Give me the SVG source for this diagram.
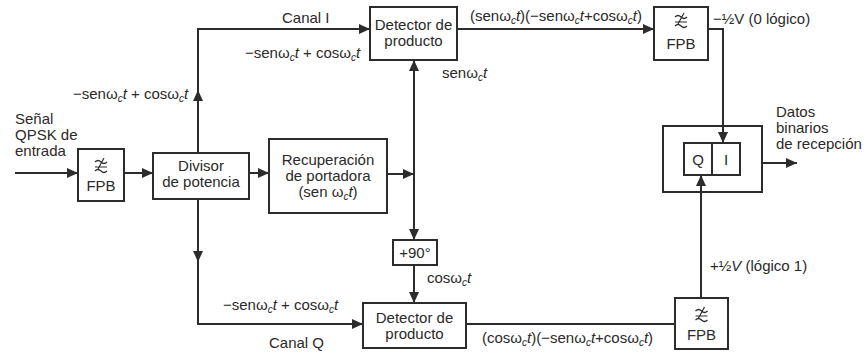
<svg xmlns="http://www.w3.org/2000/svg" width="867" height="353" viewBox="0 0 867 353">
  <style>
    .box { fill: none; stroke: #2c2c2c; stroke-width: 2; }
    .wire { fill: none; stroke: #2c2c2c; stroke-width: 2; }
    .arr { marker-end: url(#head); }
    text { font-family: "Liberation Sans", Arial, sans-serif; font-size: 15px; fill: #2a2a2a; }
    .c { text-anchor: middle; }
    .sym { fill: none; stroke: #2c2c2c; stroke-width: 1.2; }
  </style>
  <defs>
    <marker id="head" markerUnits="userSpaceOnUse" markerWidth="12" markerHeight="10" refX="11" refY="5" orient="auto">
      <path d="M0,0 L11,5 L0,10 Z" fill="#2c2c2c"/>
    </marker>
    <!-- low-pass filter glyph: stacked tildes, upper ones struck through -->
    <g id="lpf">
      <path class="sym" d="M-6,-4 q3,-3 6,0 t6,0 M-6,1 h12 M-6,5 q3,-3 6,0 t6,0 M3,-8 L-3,3"/>
    </g>
  </defs>
  <rect width="867" height="353" fill="#ffffff"/>

  <!-- connectors -->
  <g id="connectors">
    <path class="wire arr" d="M15,173 H78"/>
    <path class="wire arr" d="M124,173 H153"/>
    <path class="wire arr" d="M249,173 H269"/>
    <path class="wire arr" d="M387,174 H414"/>
    <!-- carrier line: up to the I detector, down to the 90° shifter -->
    <path class="wire arr" d="M414,174 V60"/>
    <path class="wire arr" d="M414,174 V240"/>
    <path class="wire arr" d="M414,265 V303"/>
    <!-- I channel -->
    <path class="wire arr" d="M198,153 V90"/>
    <path class="wire arr" d="M198,92 V29 H370"/>
    <path class="wire arr" d="M457,29 H654"/>
    <path class="wire arr" d="M708,29 H723 V143"/>
    <!-- Q channel -->
    <path class="wire arr" d="M198,199 V262"/>
    <path class="wire arr" d="M198,260 V324 H363"/>
    <path class="wire" d="M466,324 H675"/>
    <path class="wire arr" d="M701,298 V175"/>
    <!-- output -->
    <path class="wire arr" d="M762,163 H797"/>
  </g>

  <!-- labels on the lines -->
  <text x="15" y="124">Señal</text>
  <text x="15" y="140">QPSK de</text>
  <text x="15" y="156">entrada</text>

  <text x="73" y="99">−senω<tspan font-size="10" dy="3" font-style="italic">c</tspan><tspan dy="-3" font-style="italic">t</tspan> + cosω<tspan font-size="10" dy="3" font-style="italic">c</tspan><tspan dy="-3" font-style="italic">t</tspan></text>
  <text x="282" y="23">Canal I</text>
  <text x="245" y="58">−senω<tspan font-size="10" dy="3" font-style="italic">c</tspan><tspan dy="-3" font-style="italic">t</tspan> + cosω<tspan font-size="10" dy="3" font-style="italic">c</tspan><tspan dy="-3" font-style="italic">t</tspan></text>
  <text x="442" y="78">senω<tspan font-size="10" dy="3" font-style="italic">c</tspan><tspan dy="-3" font-style="italic">t</tspan></text>
  <text x="470" y="21">(senω<tspan font-size="10" dy="3" font-style="italic">c</tspan><tspan dy="-3" font-style="italic">t</tspan>)(−senω<tspan font-size="10" dy="3" font-style="italic">c</tspan><tspan dy="-3" font-style="italic">t</tspan>+cosω<tspan font-size="10" dy="3" font-style="italic">c</tspan><tspan dy="-3" font-style="italic">t</tspan>)</text>
  <text x="713" y="24">−½V (0 lógico)</text>
  <text x="776" y="117">Datos</text>
  <text x="776" y="133">binarios</text>
  <text x="776" y="149">de recepción</text>

  <text x="427" y="283">cosω<tspan font-size="10" dy="3" font-style="italic">c</tspan><tspan dy="-3" font-style="italic">t</tspan></text>
  <text x="223" y="310">−senω<tspan font-size="10" dy="3" font-style="italic">c</tspan><tspan dy="-3" font-style="italic">t</tspan> + cosω<tspan font-size="10" dy="3" font-style="italic">c</tspan><tspan dy="-3" font-style="italic">t</tspan></text>
  <text x="269" y="348">Canal Q</text>
  <text x="482" y="343">(cosω<tspan font-size="10" dy="3" font-style="italic">c</tspan><tspan dy="-3" font-style="italic">t</tspan>)(−senω<tspan font-size="10" dy="3" font-style="italic">c</tspan><tspan dy="-3" font-style="italic">t</tspan>+cosω<tspan font-size="10" dy="3" font-style="italic">c</tspan><tspan dy="-3" font-style="italic">t</tspan>)</text>
  <text x="710" y="271">+½<tspan font-style="italic">V</tspan> (lógico 1)</text>

  <!-- blocks -->
  <g id="fpb-in">
    <rect class="box" x="78" y="149" width="46" height="52"/>
    <use href="#lpf" x="101" y="166"/>
    <text class="c" x="101" y="191">FPB</text>
  </g>
  <g id="divisor">
    <rect class="box" x="153" y="153" width="96" height="46"/>
    <text class="c" x="201" y="171">Divisor</text>
    <text class="c" x="201" y="187">de potencia</text>
  </g>
  <g id="recuperacion">
    <rect class="box" x="269" y="139" width="118" height="74"/>
    <text class="c" x="328" y="165">Recuperación</text>
    <text class="c" x="328" y="181">de portadora</text>
    <text class="c" x="328" y="197">(sen ω<tspan font-size="10" dy="3" font-style="italic">c</tspan><tspan dy="-3" font-style="italic">t</tspan>)</text>
  </g>
  <g id="detector-i">
    <rect class="box" x="370" y="7" width="87" height="53"/>
    <text class="c" x="413.5" y="30">Detector de</text>
    <text class="c" x="413.5" y="46">producto</text>
  </g>
  <g id="desfase">
    <rect class="box" x="393" y="240" width="44" height="25"/>
    <text class="c" x="415" y="258">+90°</text>
  </g>
  <g id="detector-q">
    <rect class="box" x="363" y="303" width="103" height="45"/>
    <text class="c" x="414.5" y="323">Detector de</text>
    <text class="c" x="414.5" y="339">producto</text>
  </g>
  <g id="fpb-i">
    <rect class="box" x="654" y="7" width="54" height="53"/>
    <use href="#lpf" x="681" y="21"/>
    <text class="c" x="681" y="49">FPB</text>
  </g>
  <g id="fpb-q">
    <rect class="box" x="675" y="298" width="53" height="51"/>
    <use href="#lpf" x="701.5" y="315"/>
    <text class="c" x="701.5" y="340">FPB</text>
  </g>
  <g id="registro">
    <rect class="box" x="663" y="126" width="99" height="66"/>
    <rect class="box" x="684" y="143" width="56" height="32"/>
    <path class="wire" d="M712,143 V175"/>
    <text class="c" x="698" y="165">Q</text>
    <text class="c" x="726" y="165">I</text>
  </g>
</svg>
